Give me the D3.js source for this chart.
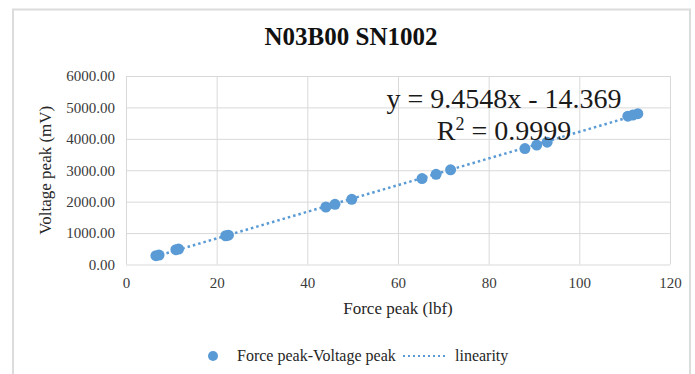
<!DOCTYPE html>
<html>
<head>
<meta charset="utf-8">
<script src="https://cdn.jsdelivr.net/npm/d3@7"></script>
<style>
  body { margin: 0; background: #fff; }
</style>
</head>
<body>
<div id="chart"></div>
<script>
// values
const forcePeak = [6.6, 7.3, 11.0, 11.6, 22.0, 22.6, 44.1, 46.1, 49.8, 65.3, 68.4, 71.6, 88.0, 90.6, 92.9, 110.7, 111.8, 112.9];
const voltagePeak = [280, 300, 470, 490, 915, 935, 1830, 1915, 2075, 2735, 2870, 3015, 3690, 3800, 3895, 4720, 4755, 4800];
const xTicks = [0, 20, 40, 60, 80, 100, 120];
const yTicks = [0, 1000, 2000, 3000, 4000, 5000, 6000];
const chartTitle = 'N03B00 SN1002';
const equationText = 'y = 9.4548x - 14.369';
const r2Text = '0.9999';
const seriesName = 'Force peak-Voltage peak';
const trendName = 'linearity';

const W = 695, H = 374;
const margin = { top: 76, left: 126, right: 25, bottom: 110 };
const BLUE = '#5b9bd5';
const SERIF = 'Liberation Serif, Times New Roman, serif';

const svg = d3.select('#chart').append('svg')
    .attr('width', W)
    .attr('height', H)
    .attr('font-family', SERIF);

// chart frame
svg.append('rect')
    .attr('x', 13).attr('y', 9.5)
    .attr('width', 677).attr('height', 420)
    .attr('fill', 'none')
    .attr('stroke', '#dcdcdc')
    .attr('stroke-width', 2);

const x = d3.scaleLinear().domain([0, 120]).range([margin.left, W - margin.right]);
const y = d3.scaleLinear().domain([0, 6000]).range([H - margin.bottom + 0.5, margin.top]);

// gridlines
svg.append('g')
    .attr('transform', `translate(0, ${y.range()[0]})`)
    .call(d3.axisBottom(x).tickValues(xTicks).tickSize(-(y.range()[0] - y.range()[1])).tickFormat(''))
    .call(g => g.select('.domain').remove())
    .selectAll('line').attr('stroke', '#d9d9d9');

svg.append('g')
    .attr('transform', `translate(${margin.left}, 0)`)
    .call(d3.axisLeft(y).tickValues(yTicks).tickSize(-(x.range()[1] - x.range()[0])).tickFormat(''))
    .call(g => g.select('.domain').remove())
    .selectAll('line').attr('stroke', '#d9d9d9');

// tick labels
svg.append('g')
    .attr('transform', `translate(0, ${y.range()[0]})`)
    .call(d3.axisBottom(x).tickValues(xTicks).tickSize(0).tickPadding(13).tickFormat(d3.format('d')))
    .attr('font-family', SERIF).attr('font-size', 15)
    .call(g => g.select('.domain').remove())
    .selectAll('text').attr('fill', '#3a3a3a');

svg.append('g')
    .attr('transform', `translate(${margin.left}, 0)`)
    .call(d3.axisLeft(y).tickValues(yTicks).tickSize(0).tickPadding(11).tickFormat(d3.format('.2f')))
    .attr('font-family', SERIF).attr('font-size', 15)
    .call(g => g.select('.domain').remove())
    .selectAll('text').attr('fill', '#3a3a3a');

// linear trend from the points (least squares)
const mx = d3.mean(forcePeak), my = d3.mean(voltagePeak);
const slope = d3.sum(forcePeak, (v, i) => (v - mx) * (voltagePeak[i] - my)) /
    d3.sum(forcePeak, v => (v - mx) * (v - mx));
const icpt = my - slope * mx;
const xExt = d3.extent(forcePeak);

svg.append('line')
    .attr('x1', x(xExt[0])).attr('y1', y(slope * xExt[0] + icpt))
    .attr('x2', x(xExt[1])).attr('y2', y(slope * xExt[1] + icpt))
    .attr('stroke', BLUE)
    .attr('stroke-width', 2.5)
    .attr('stroke-dasharray', '2.5,3');

// points
svg.append('g')
    .selectAll('circle')
    .data(forcePeak)
    .enter()
    .append('circle')
    .attr('cx', d => x(d))
    .attr('cy', (d, i) => y(voltagePeak[i]))
    .attr('r', 5.5)
    .attr('fill', BLUE);

// equation labels
svg.append('text')
    .attr('x', 504).attr('y', 108)
    .attr('text-anchor', 'middle')
    .attr('font-size', 28).attr('fill', '#1a1a1a')
    .text(equationText);

const r2 = svg.append('text')
    .attr('x', 504).attr('y', 140)
    .attr('text-anchor', 'middle')
    .attr('font-size', 28).attr('fill', '#1a1a1a');
r2.append('tspan').text('R');
r2.append('tspan').attr('font-size', 18).attr('dy', -10).text('2');
r2.append('tspan').attr('dy', 10).text(' = ' + r2Text);

// title
svg.append('text')
    .attr('x', 351).attr('y', 45)
    .attr('text-anchor', 'middle')
    .attr('font-size', 25).attr('font-weight', 'bold').attr('fill', '#111')
    .text(chartTitle);

// axis titles
svg.append('text')
    .attr('x', x(60)).attr('y', 314)
    .attr('text-anchor', 'middle')
    .attr('font-size', 17).attr('fill', '#262626')
    .text('Force peak (lbf)');

svg.append('text')
    .attr('transform', `translate(51, ${(y.range()[0] + y.range()[1]) / 2}) rotate(-90)`)
    .attr('text-anchor', 'middle')
    .attr('font-size', 17).attr('fill', '#262626')
    .text('Voltage peak (mV)');

// legend
const legend = svg.append('g').attr('transform', 'translate(0, 356)');
legend.append('circle').attr('cx', 213).attr('cy', 0).attr('r', 5).attr('fill', BLUE);
legend.append('text').attr('x', 237).attr('y', 5)
    .attr('font-size', 16).attr('fill', '#262626').text(seriesName);
legend.append('line')
    .attr('x1', 403).attr('x2', 447).attr('y1', 0).attr('y2', 0)
    .attr('stroke', BLUE).attr('stroke-width', 2)
    .attr('stroke-dasharray', '2,3');
legend.append('text').attr('x', 455).attr('y', 5)
    .attr('font-size', 16).attr('fill', '#262626').text(trendName);
</script>
</body>
</html>
